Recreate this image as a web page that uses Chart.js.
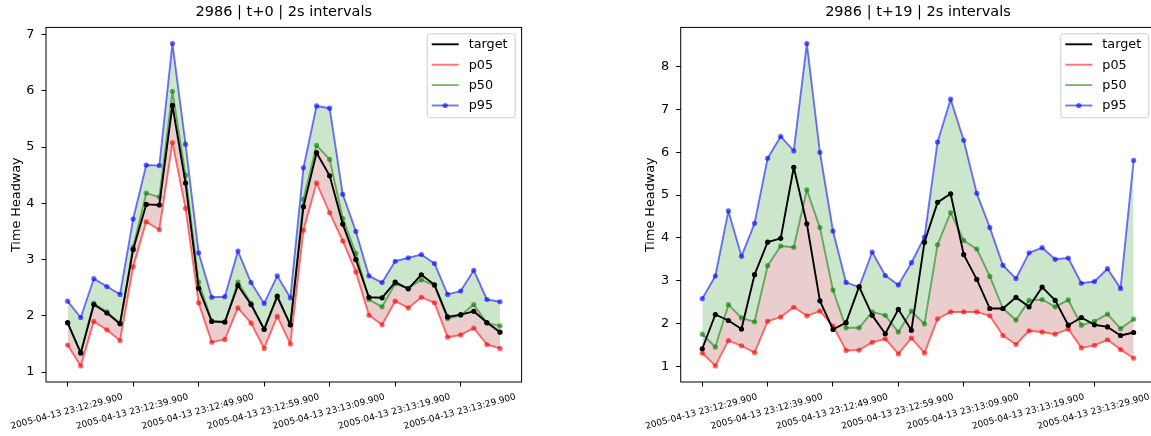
<!DOCTYPE html>
<html>
<head>
<meta charset="utf-8">
<script src="https://cdn.jsdelivr.net/npm/chart.js@4.4.1/dist/chart.umd.min.js"></script>
<style>
html,body{margin:0;padding:0;background:#fff;overflow:hidden;width:1151px;height:436px;}
#wrap{position:relative;width:1151px;height:436px;overflow:hidden;background:#fff;}
canvas{position:absolute;top:0;}
#c1{left:0;}
#c2{left:580px;}
</style>
</head>
<body>
<div id="wrap">
<canvas id="c1" width="580" height="436"></canvas>
<canvas id="c2" width="600" height="436"></canvas>
</div>
<script>
// ---- categories (2 s steps) ----
const timeLabels = [
  '2005-04-13 23:12:29.900','2005-04-13 23:12:31.900','2005-04-13 23:12:33.900','2005-04-13 23:12:35.900',
  '2005-04-13 23:12:37.900','2005-04-13 23:12:39.900','2005-04-13 23:12:41.900','2005-04-13 23:12:43.900',
  '2005-04-13 23:12:45.900','2005-04-13 23:12:47.900','2005-04-13 23:12:49.900','2005-04-13 23:12:51.900',
  '2005-04-13 23:12:53.900','2005-04-13 23:12:55.900','2005-04-13 23:12:57.900','2005-04-13 23:12:59.900',
  '2005-04-13 23:13:01.900','2005-04-13 23:13:03.900','2005-04-13 23:13:05.900','2005-04-13 23:13:07.900',
  '2005-04-13 23:13:09.900','2005-04-13 23:13:11.900','2005-04-13 23:13:13.900','2005-04-13 23:13:15.900',
  '2005-04-13 23:13:17.900','2005-04-13 23:13:19.900','2005-04-13 23:13:21.900','2005-04-13 23:13:23.900',
  '2005-04-13 23:13:25.900','2005-04-13 23:13:27.900','2005-04-13 23:13:29.900','2005-04-13 23:13:31.900',
  '2005-04-13 23:13:33.900','2005-04-13 23:13:35.900'
];
const seriesNames = ['target', 'p05', 'p50', 'p95'];
const titles = ['2986 | t+0 | 2s intervals', '2986 | t+19 | 2s intervals'];
const yAxisLabel = 'Time Headway';

// ---- left panel: t+0 ----
const target_t0 = [1.88,1.34,2.20,2.05,1.86,3.18,3.98,3.97,5.74,4.36,2.49,1.90,1.89,2.54,2.20,1.76,2.35,1.84,3.94,4.90,4.49,3.63,3.00,2.33,2.32,2.60,2.48,2.73,2.55,1.98,2.02,2.08,1.88,1.71];
const p05_t0    = [1.48,1.11,1.90,1.75,1.56,2.87,3.67,3.53,5.08,3.91,2.23,1.53,1.58,2.14,1.87,1.42,1.99,1.50,3.52,4.36,3.83,3.33,2.78,2.01,1.84,2.26,2.14,2.33,2.23,1.62,1.66,1.78,1.49,1.42];
const p50_t0    = [1.87,1.34,2.22,2.07,1.86,3.22,4.18,4.11,5.99,4.50,2.60,1.91,1.89,2.60,2.22,1.76,2.33,1.84,4.07,5.03,4.78,3.73,3.11,2.29,2.16,2.57,2.49,2.64,2.54,1.95,2.01,2.20,1.87,1.82];
const p95_t0    = [2.26,1.97,2.66,2.52,2.38,3.72,4.68,4.67,6.84,5.05,3.12,2.33,2.34,3.15,2.59,2.22,2.71,2.32,4.63,5.73,5.69,4.16,3.50,2.71,2.59,2.97,3.03,3.09,2.93,2.38,2.44,2.81,2.29,2.25];

// ---- right panel: t+19 ----
const target_t19 = [1.41,2.21,2.07,1.87,3.14,3.90,3.99,5.65,4.33,2.53,1.86,2.02,2.86,2.19,1.76,2.33,1.84,3.90,4.83,5.03,3.61,3.03,2.35,2.35,2.61,2.39,2.85,2.54,1.96,2.14,1.97,1.92,1.72,1.79];
const p05_t19    = [1.31,1.01,1.60,1.48,1.32,2.05,2.15,2.38,2.18,2.29,1.94,1.37,1.38,1.56,1.64,1.29,1.66,1.31,2.11,2.27,2.27,2.27,2.18,1.72,1.51,1.83,1.80,1.75,1.87,1.43,1.49,1.62,1.39,1.19];
const p50_t19    = [1.75,1.45,2.44,2.13,2.04,3.35,3.81,3.78,5.12,4.24,2.78,1.90,1.90,2.27,2.19,1.80,2.29,1.99,3.84,4.59,3.94,3.74,3.10,2.35,2.08,2.54,2.56,2.39,2.55,1.96,2.05,2.22,1.88,2.10];
const p95_t19    = [2.58,3.11,4.63,3.57,4.34,5.86,6.37,6.03,8.54,6.00,4.16,2.96,2.85,3.67,3.12,2.90,3.42,4.02,6.24,7.24,6.28,5.04,4.24,3.36,3.05,3.65,3.77,3.50,3.53,2.94,2.98,3.28,2.82,5.81];

Chart.defaults.font.family = "'DejaVu Sans', sans-serif";
Chart.defaults.color = '#000';

const FONT_TICK = 12.8;

const framePlugin = {
  id: 'mplFrame',
  afterDatasetsDraw(chart) {
    const {ctx, chartArea: a} = chart;
    ctx.save();
    ctx.strokeStyle = '#000';
    ctx.lineWidth = 1;
    ctx.strokeRect(a.left, a.top, a.right - a.left, a.bottom - a.top);
    ctx.restore();
  }
};

const legendPlugin = {
  id: 'mplLegend',
  afterDraw(chart) {
    const {ctx, chartArea: a} = chart;
    const w = 88, h = 84;
    const x0 = a.right - 6.4 - w, y0 = a.top + 6.4;
    ctx.save();
    ctx.beginPath();
    ctx.roundRect(x0, y0, w, h, 2.6);
    ctx.fillStyle = 'rgba(255,255,255,0.8)';
    ctx.fill();
    ctx.strokeStyle = '#cccccc';
    ctx.lineWidth = 1;
    ctx.stroke();
    chart.data.datasets.forEach((ds, i) => {
      const y = y0 + 10.5 + i * 20.4;
      const lx0 = x0 + 4.5, lx1 = lx0 + 27;
      ctx.strokeStyle = ds.borderColor;
      ctx.lineWidth = 1.9;
      ctx.beginPath(); ctx.moveTo(lx0, y); ctx.lineTo(lx1, y); ctx.stroke();
      if (ds.legendMarker) {
        ctx.fillStyle = ds.pointBackgroundColor;
        ctx.beginPath(); ctx.arc((lx0 + lx1) / 2, y, 2.6, 0, Math.PI * 2); ctx.fill();
      }
      ctx.fillStyle = '#000';
      ctx.font = FONT_TICK + "px 'DejaVu Sans'";
      ctx.textBaseline = 'middle';
      ctx.textAlign = 'left';
      ctx.fillText(ds.label, lx1 + 10, y + 0.5);
    });
    ctx.restore();
  }
};

function pts(arr) { return arr.map((v, i) => ({x: i, y: v})); }

function makeChart(id, title, target, p05, p50, p95, padLeft, padRight) {
  const all = target.concat(p05, p50, p95);
  const lo = Math.min(...all), hi = Math.max(...all);
  const m = (hi - lo) * 0.05;
  const n = timeLabels.length;
  const xm = (n - 1) * 0.05;
  const common = {borderWidth: 1.9, pointRadius: 2.6, pointBorderWidth: 0,
                  borderJoinStyle: 'round', borderCapStyle: 'round'};
  return new Chart(document.getElementById(id), {
    type: 'line',
    data: {
      datasets: [
        Object.assign({label: seriesNames[0], data: pts(target), borderColor: '#000000', pointBackgroundColor: '#000000',
         fill: false}, common),
        Object.assign({label: seriesNames[1], data: pts(p05), borderColor: 'rgba(255,0,0,0.55)', pointBackgroundColor: 'rgba(255,0,0,0.6)',
         fill: false}, common),
        Object.assign({label: seriesNames[2], data: pts(p50), borderColor: 'rgba(0,128,0,0.55)', pointBackgroundColor: 'rgba(0,128,0,0.6)',
         backgroundColor: 'rgba(150,10,10,0.2)', fill: 1}, common),
        Object.assign({label: seriesNames[3], data: pts(p95), borderColor: 'rgba(0,0,255,0.55)', pointBackgroundColor: 'rgba(0,0,255,0.6)',
         backgroundColor: 'rgba(0,128,0,0.2)', legendMarker: true, fill: 2}, common)
      ]
    },
    options: {
      responsive: false,
      animation: false,
      devicePixelRatio: 1,
      layout: {padding: {left: padLeft, right: padRight, top: 0, bottom: 0}},
      elements: {line: {tension: 0}},
      plugins: {
        legend: {display: false},
        tooltip: {enabled: false},
        filler: {drawTime: 'beforeDatasetsDraw'},
        title: {
          display: true, text: title, fullSize: false, color: '#000',
          font: {size: 14.5, weight: 'normal'},
          padding: {top: 4, bottom: 6}
        }
      },
      scales: {
        x: {
          type: 'linear', min: -xm, max: (n - 1) + xm,
          border: {display: false},
          grid: {drawOnChartArea: false, drawTicks: true, tickLength: 4.5, color: '#000', lineWidth: 1},
          ticks: {
            stepSize: 5, includeBounds: false, autoSkip: false,
            minRotation: 15, maxRotation: 15, labelOffset: 55, padding: 5,
            font: {size: 9}, color: '#000',
            callback: (v) => timeLabels[v]
          },
          afterFit(s) { s.height = 54; s.paddingLeft = 0; s.paddingRight = 0; }
        },
        y: {
          type: 'linear', min: lo - m, max: hi + m,
          border: {display: false},
          grid: {drawOnChartArea: false, drawTicks: true, tickLength: 4.5, color: '#000', lineWidth: 1},
          ticks: {stepSize: 1, includeBounds: false, padding: 7, font: {size: FONT_TICK}, color: '#000'},
          title: {display: true, text: yAxisLabel, color: '#000', font: {size: FONT_TICK}, padding: {top: 8.7, bottom: 0}},
          afterFit(s) { s.width = 46; s.paddingTop = 0; s.paddingBottom = 0; }
        }
      }
    },
    plugins: [framePlugin, legendPlugin]
  });
}

makeChart('c1', titles[0], target_t0, p05_t0, p50_t0, p95_t0, 0, 58.4);
makeChart('c2', titles[1], target_t19, p05_t19, p50_t19, p95_t19, 54.7, 24.8);
</script>
</body>
</html>
